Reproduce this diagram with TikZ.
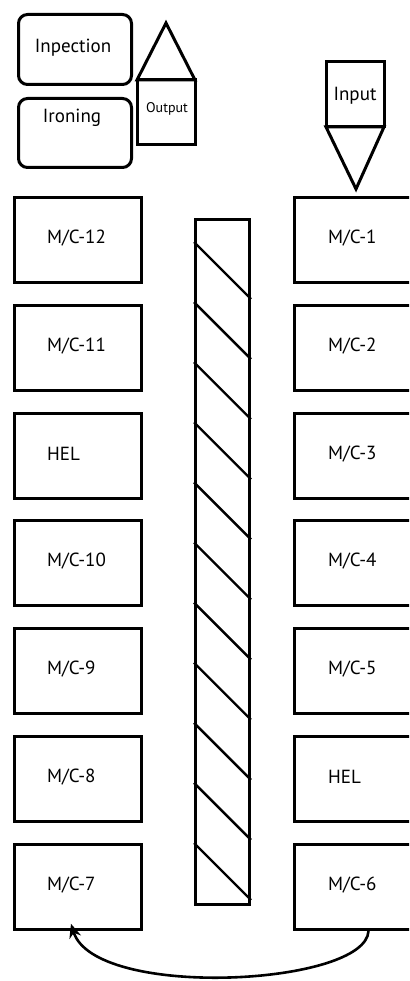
\documentclass[tikz,border=0pt]{standalone}
\usepackage{fontspec}
\setmainfont{PT Sans}
\usetikzlibrary{arrows.meta}
\begin{document}
\begin{tikzpicture}[x=1pt,y=-1pt,
  edge/.style={line width=3pt, line join=miter},
  machine/.style={edge, draw, rectangle, minimum width=127pt, minimum height=85pt, inner sep=0pt, anchor=north west},
  rmachine/.style={machine, minimum width=130pt},
  station/.style={edge, draw, rounded corners=9pt, minimum width=113pt, anchor=north west, inner sep=0pt},
  lbl/.style={font=\fontsize{19}{19}\selectfont, anchor=west, inner sep=0pt},
  hatch/.style={line width=2.4pt}]
\useasboundingbox (0,0) rectangle (409,981);
\clip (0,0) rectangle (409,981);

% finishing area
\node[station, minimum height=70pt] (insp) at (17,13) {};
\node[font=\fontsize{19}{19}\selectfont] (insptxt) at (73,48) {Inpection};
\node[station, minimum height=69pt] (iron) at (17,97) {};
\node[font=\fontsize{19}{19}\selectfont] (irontxt) at (72,118) {Ironing};

% output marker
\draw[edge] (137,80) -- (166,23) -- (195,80) -- cycle;
\draw[edge] (137,80) rectangle (195,145);
\node[font=\fontsize{14}{14}\selectfont, inner sep=0pt] (outtxt) at (167,109) {Output};

% input marker
\draw[edge] (326,62) rectangle (384,127);
\draw[edge] (326,127) -- (356,189) -- (384,127) -- cycle;
\node[font=\fontsize{19}{19}\selectfont, inner sep=0pt] (intxt) at (355,96) {Input};

% left row of machines
\foreach \n/\t [count=\i from 0] in {m12/{M/C-12}, m11/{M/C-11}, hl/{HEL}, m10/{M/C-10}, m9/{M/C-9}, m8/{M/C-8}, m7/{M/C-7}}{
  \node[machine] (\n) at (13,{196+107.8*\i}) {};
  \node[lbl] (\n txt) at ([xshift=34pt,yshift=2pt]\n.west) {\t};
}
% right row of machines
\foreach \n/\t [count=\i from 0] in {m1/{M/C-1}, m2/{M/C-2}, m3/{M/C-3}, m4/{M/C-4}, m5/{M/C-5}, hr/{HEL}, m6/{M/C-6}}{
  \node[rmachine] (\n) at (293,{196+107.8*\i}) {};
  \node[lbl] (\n txt) at ([xshift=35pt,yshift=2pt]\n.west) {\t};
}

% central hatched conveyor
\node[edge, draw, minimum width=54pt, minimum height=685pt, inner sep=0pt, anchor=north west] (belt) at (194,218) {};
\foreach \k in {0,...,10}{
  \draw[hatch] (belt.west |- 0,{242+60.1*\k}) -- (belt.east |- 0,{299+60.1*\k});
}

% return flow from M/C-6 to M/C-7
\draw[line width=2.6pt, -{Stealth[length=14pt,width=12pt]}]
  ([xshift=9pt]m6.south) .. controls +(-2,55) and (95,1000) .. ([xshift=-7pt,yshift=7pt]m7.south);
\end{tikzpicture}
\end{document}
